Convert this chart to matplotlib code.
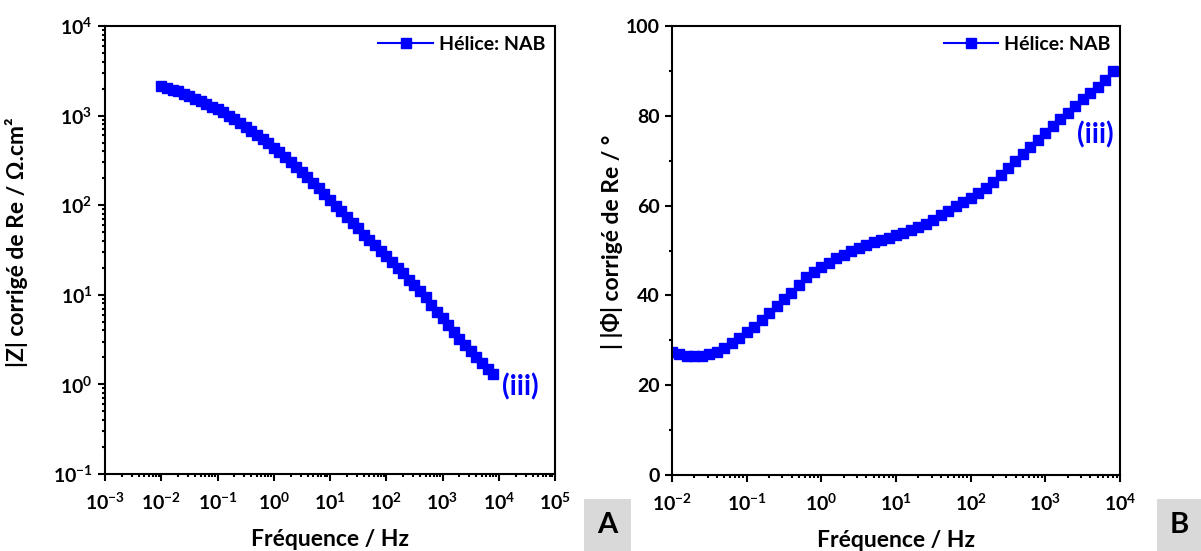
import math

import matplotlib
matplotlib.use("Agg")
import matplotlib.pyplot as plt
from matplotlib.patches import Rectangle
from matplotlib.ticker import FuncFormatter, LogLocator, MultipleLocator, NullFormatter

# frequency grid (10 points per decade)
freq_hz = [
    0.01, 0.01259, 0.01585, 0.01995, 0.02512, 0.03162, 0.03981, 0.05012, 0.0631, 0.07943,
    0.1, 0.1259, 0.1585, 0.1995, 0.2512, 0.3162, 0.3981, 0.5012, 0.631, 0.7943,
    1, 1.259, 1.585, 1.995, 2.512, 3.162, 3.981, 5.012, 6.31, 7.943,
    10, 12.59, 15.85, 19.95, 25.12, 31.62, 39.81, 50.12, 63.1, 79.43,
    100, 125.9, 158.5, 199.5, 251.2, 316.2, 398.1, 501.2, 631, 794.3,
    1000, 1259, 1585, 1995, 2512, 3162, 3981, 5012, 6310, 7943,
]
# |Z| corrected of Re, ohm.cm2
z_mod = [
    2138, 2042, 1950, 1862, 1738, 1660, 1549, 1445, 1349, 1259,
    1175, 1096, 1000, 912, 832, 741, 676, 603, 550, 490,
    437, 389, 347, 302, 269, 234, 204, 178, 155, 132,
    115, 97.7, 85.1, 74.1, 63.1, 55.0, 46.8, 40.7, 35.5, 30.9,
    26.9, 23.4, 20.0, 17.4, 14.8, 12.9, 11.0, 9.33, 7.76, 6.46,
    5.50, 4.57, 3.80, 3.24, 2.75, 2.34, 2.04, 1.74, 1.48, 1.29,
]
# |phase| corrected of Re, degrees
phase_deg = [
    27.5, 27.0, 26.6, 26.5, 26.6, 26.9, 27.4, 28.2, 29.3, 30.6,
    31.8, 33.0, 34.5, 36.0, 37.6, 39.1, 40.6, 42.3, 44.0, 45.3,
    46.4, 47.3, 48.3, 49.1, 49.8, 50.5, 51.2, 51.8, 52.3, 52.8,
    53.4, 53.9, 54.5, 55.2, 56.0, 56.9, 57.9, 58.9, 59.8, 60.7,
    61.6, 62.8, 64.0, 65.3, 66.8, 68.3, 69.9, 71.5, 73.1, 74.7,
    76.2, 77.7, 79.2, 80.7, 82.2, 83.7, 85.1, 86.5, 88.0, 89.9,
]
series_label = "Hélice: NAB"
curve_tag = "(iii)"
panel_tags = ["A", "B"]

BLUE = "#0000ff"
W, H = 1201, 551

plt.rcParams["font.family"] = ["Lato", "DejaVu Sans"]
plt.rcParams["font.weight"] = "bold"
plt.rcParams["axes.labelweight"] = "bold"
plt.rcParams["mathtext.fontset"] = "custom"
plt.rcParams["mathtext.bf"] = "Lato:bold"
plt.rcParams["mathtext.rm"] = "Lato:bold"
plt.rcParams["axes.linewidth"] = 1.5


def pow10(val, pos):
    exp = int(round(math.log10(val)))
    return r"$\mathbf{10^{%d}}$" % exp


def style_axes(ax):
    ax.tick_params(which="both", direction="out", top=False, right=False,
                   labelsize=14, width=1.5)
    ax.tick_params(which="major", length=5, pad=4)
    ax.tick_params(which="minor", length=2.5)
    ax.tick_params(axis="x", which="major", pad=8)
    for lab in ax.get_xticklabels() + ax.get_yticklabels():
        lab.set_fontweight("bold")


def log_ticks(axis):
    axis.set_major_locator(LogLocator(base=10, numticks=20))
    axis.set_minor_locator(LogLocator(base=10, subs=range(2, 10), numticks=20))
    axis.set_major_formatter(FuncFormatter(pow10))
    axis.set_minor_formatter(NullFormatter())


fig = plt.figure(figsize=(W / 100, H / 100), dpi=100)
ax1 = fig.add_axes([105 / W, (H - 474) / H, 450 / W, 448 / H])
ax2 = fig.add_axes([672 / W, (H - 475) / H, 448 / W, 449 / H])

# panel A: modulus
ax1.plot(freq_hz, z_mod, "-s", color=BLUE, ms=7, lw=1.5, label=series_label)
ax1.set_xscale("log")
ax1.set_yscale("log")
ax1.set_xlim(1e-3, 1e5)
ax1.set_ylim(1e-1, 1e4)
log_ticks(ax1.xaxis)
log_ticks(ax1.yaxis)
ax1.set_xlabel("Fréquence / Hz", fontsize=16.5)
ax1.set_ylabel("|Z| corrigé de Re / Ω.cm²", fontsize=16.5)
ax1.xaxis.set_label_coords(0.5, -0.123)
ax1.yaxis.set_label_coords(-0.17, 0.518)
ax1.text(0.924, 0.194, curve_tag, transform=ax1.transAxes, color=BLUE,
         fontsize=20, fontweight="bold", ha="center", va="center")
style_axes(ax1)

# panel B: phase
ax2.plot(freq_hz, phase_deg, "-s", color=BLUE, ms=7, lw=1.5, label=series_label)
ax2.set_xscale("log")
ax2.set_xlim(1e-2, 1e4)
ax2.set_ylim(0, 100)
log_ticks(ax2.xaxis)
ax2.yaxis.set_major_locator(MultipleLocator(20))
ax2.yaxis.set_minor_locator(MultipleLocator(10))
ax2.set_xlabel("Fréquence / Hz", fontsize=16.5)
ax2.set_ylabel("| |Φ| corrigé de Re / °", fontsize=16.5)
ax2.xaxis.set_label_coords(0.5, -0.123)
ax2.yaxis.set_label_coords(-0.11, 0.52)
ax2.text(0.944, 0.757, curve_tag, transform=ax2.transAxes, color=BLUE,
         fontsize=20, fontweight="bold", ha="center", va="center")
style_axes(ax2)

for ax in (ax1, ax2):
    ax.legend(loc="upper right", frameon=False, handlelength=2.8,
              handletextpad=0.3, borderaxespad=0.2, borderpad=0.3,
              prop={"weight": "bold", "size": 14})

# grey panel tags at the bottom right of each panel
for tag, (x0, x1) in zip(panel_tags, [(584, 631), (1157, 1201)]):
    fig.add_artist(Rectangle((x0 / W, 0), (x1 - x0) / W, 52 / H,
                             transform=fig.transFigure, fc="#d9d9d9", ec="none"))
    fig.text((x0 + x1) / 2 / W, 26 / H, tag, fontsize=21, fontweight="bold",
             ha="center", va="center")

fig.savefig("out.png", dpi=100)
